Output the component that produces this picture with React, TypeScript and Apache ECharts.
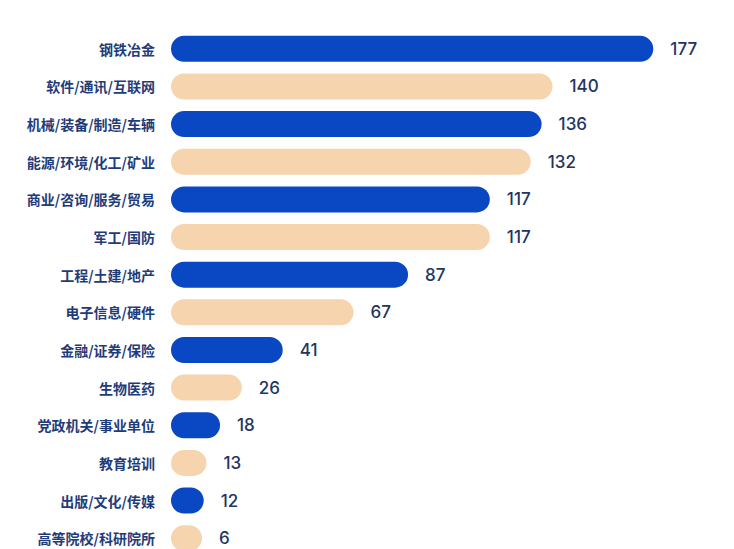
import React, { useEffect, useRef } from "react";
import * as echarts from "echarts";

const industries = [
  "钢铁冶金",
  "软件/通讯/互联网",
  "机械/装备/制造/车辆",
  "能源/环境/化工/矿业",
  "商业/咨询/服务/贸易",
  "军工/国防",
  "工程/土建/地产",
  "电子信息/硬件",
  "金融/证券/保险",
  "生物医药",
  "党政机关/事业单位",
  "教育培训",
  "出版/文化/传媒",
  "高等院校/科研院所",
];

const counts = [177, 140, 136, 132, 117, 117, 87, 67, 41, 26, 18, 13, 12, 6];

const barColors = ["#0a48c3", "#f6d4ad"];

const IndustryChart: React.FC = () => {
  const chartRef = useRef<HTMLDivElement | null>(null);

  useEffect(() => {
    if (!chartRef.current) return;
    const chart = echarts.init(chartRef.current, undefined, { renderer: "svg" });

    const option = {
      animation: false,
      backgroundColor: "#ffffff",
      grid: {
        left: 171,
        top: 30,
        width: 545,
        bottom: 0,
        containLabel: false,
      },
      xAxis: {
        type: "value",
        min: 0,
        max: 200,
        show: false,
      },
      yAxis: {
        type: "category",
        inverse: true,
        data: industries,
        axisLine: { show: false },
        axisTick: { show: false },
        axisLabel: {
          margin: 16,
          fontSize: 14,
          fontWeight: "bold",
          color: "#1f3c7a",
          fontFamily: "'Noto Sans CJK SC', 'Noto Sans', sans-serif",
        },
      },
      series: [
        {
          type: "bar",
          barWidth: 26,
          barMinHeight: 31,
          data: counts.map((v, i) => ({
            value: v,
            itemStyle: { color: barColors[i % 2] },
          })),
          itemStyle: { borderRadius: 13 },
          label: {
            show: true,
            position: "right",
            distance: 17,
            fontSize: 17,
            fontWeight: 500,
            color: "#22355f",
            fontFamily: "Inter, 'Noto Sans', sans-serif",
          },
        },
      ],
    };

    chart.setOption(option);

    return () => {
      chart.dispose();
    };
  }, []);

  return (
    <div
      ref={chartRef}
      style={{ position: "fixed", left: 0, top: 0, width: "734px", height: "557px" }}
    />
  );
};

export default IndustryChart;
